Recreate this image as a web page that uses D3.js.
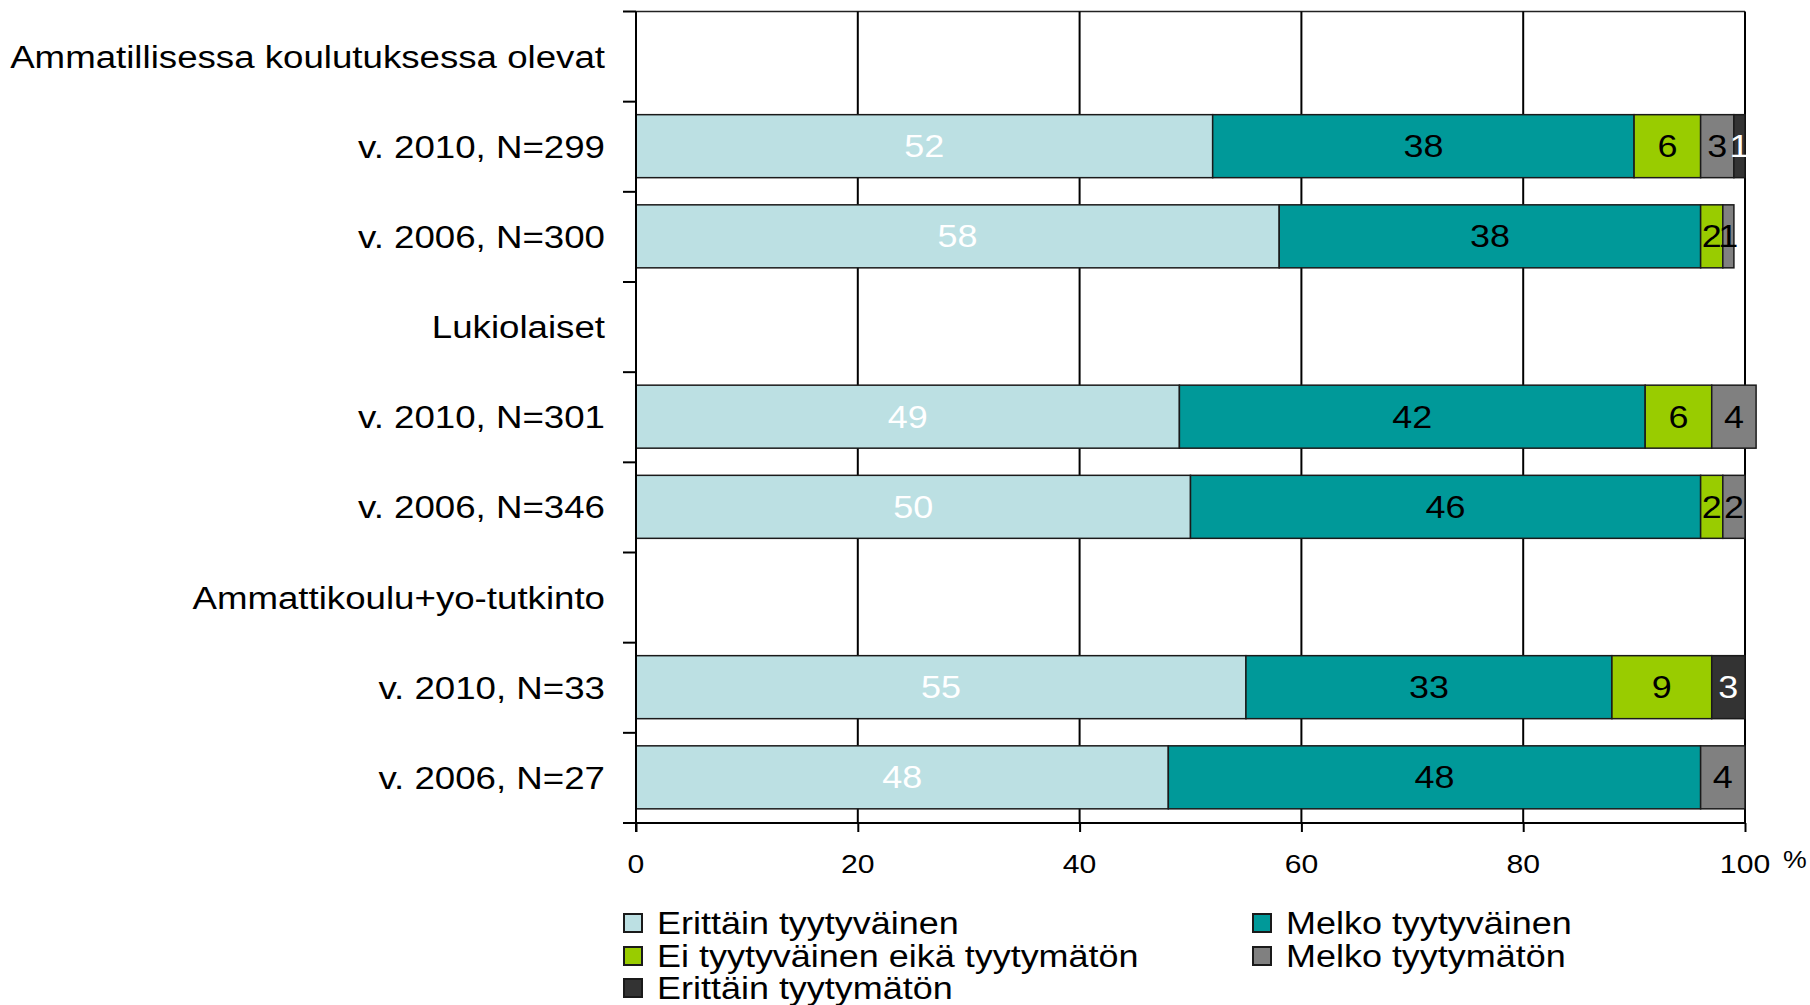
<!DOCTYPE html>
<html>
<head>
<meta charset="utf-8">
<script src="https://cdn.jsdelivr.net/npm/d3@7"></script>
<style>
  body { margin: 0; background: #fff; }
  text { font-family: "Liberation Sans", Arial, sans-serif; }
</style>
</head>
<body>
<div id="chart"></div>
<script>
// row labels (group headers have no bars)
var rowLabels = ["Ammatillisessa koulutuksessa olevat", "v. 2010, N=299", "v. 2006, N=300",
                 "Lukiolaiset", "v. 2010, N=301", "v. 2006, N=346",
                 "Ammattikoulu+yo-tutkinto", "v. 2010, N=33", "v. 2006, N=27"];

// series values, percent
var erittainTyytyvainen = [null, 52, 58, null, 49, 50, null, 55, 48];
var melkoTyytyvainen    = [null, 38, 38, null, 42, 46, null, 33, 48];
var eiEika              = [null, 6, 2, null, 6, 2, null, 9, 0];
var melkoTyytymaton     = [null, 3, 1, null, 4, 2, null, 0, 4];
var erittainTyytymaton  = [null, 1, 0, null, 0, 0, null, 3, 0];

var seriesNames = ["Erittäin tyytyväinen", "Melko tyytyväinen", "Ei tyytyväinen eikä tyytymätön",
                   "Melko tyytymätön", "Erittäin tyytymätön"];
var xTicks = [0, 20, 40, 60, 80, 100];

var colors = ["#bce0e3", "#009999", "#99cc00", "#808080", "#333333"];
var labelColors = ["#ffffff", "#000000", "#000000", "#000000", "#ffffff"];
var sx = 1.16; // text is drawn a bit wide in the original

var width = 1810, height = 1005;
var margin = {top: 11.5, left: 636, right: 65, bottom: 182};

var svg = d3.select("#chart").append("svg")
    .attr("width", width)
    .attr("height", height);

var x = d3.scaleLinear().domain([0, 100]).range([margin.left, width - margin.right]);
var y = d3.scaleBand().domain(d3.range(rowLabels.length))
    .range([margin.top, height - margin.bottom]);

// build table for the stack
var keys = ["s0", "s1", "s2", "s3", "s4"];
var allSeries = [erittainTyytyvainen, melkoTyytyvainen, eiEika, melkoTyytymaton, erittainTyytymaton];
var table = [];
rowLabels.forEach(function(l, i) {
  if (erittainTyytyvainen[i] === null) return;
  var row = {idx: i};
  keys.forEach(function(k, j) { row[k] = allSeries[j][i]; });
  table.push(row);
});
var stacked = d3.stack().keys(keys)(table);

// top border
svg.append("line")
    .attr("x1", x(0)).attr("x2", x(100))
    .attr("y1", margin.top).attr("y2", margin.top)
    .attr("stroke", "#222").attr("stroke-width", 1.5);

// vertical gridlines
svg.selectAll(".grid")
  .data(xTicks.slice(1))
  .enter().append("line")
    .attr("class", "grid")
    .attr("x1", function(d) { return x(d); })
    .attr("x2", function(d) { return x(d); })
    .attr("y1", margin.top).attr("y2", y.range()[1])
    .attr("stroke", "#000").attr("stroke-width", 2);

// bars
var barH = 63, barOff = 13;
var layer = svg.selectAll(".layer")
  .data(stacked)
  .enter().append("g")
    .attr("class", "layer")
    .attr("fill", function(d, i) { return colors[i]; });

layer.selectAll("rect")
  .data(function(d) { return d.filter(function(p) { return p[1] - p[0] > 0; }); })
  .enter().append("rect")
    .attr("x", function(d) { return x(d[0]); })
    .attr("width", function(d) { return x(d[1]) - x(d[0]); })
    .attr("y", function(d) { return y(d.data.idx) + barOff; })
    .attr("height", barH)
    .attr("stroke", "#1a1a1a")
    .attr("stroke-width", 1.5);

// value labels
layer.each(function(s, i) {
  d3.select(this).selectAll("text")
    .data(s.filter(function(p) { return p[1] - p[0] > 0; }))
    .enter().append("text")
      .attr("transform", function(d) {
        return "translate(" + ((x(d[0]) + x(d[1])) / 2) + "," + (y(d.data.idx) + barOff + barH / 2 + 11) + ") scale(" + sx + ",1)";
      })
      .attr("text-anchor", "middle")
      .attr("font-size", 31)
      .attr("fill", labelColors[i])
      .text(function(d) { return d[1] - d[0]; });
});

// y axis
svg.append("line")
    .attr("x1", x(0)).attr("x2", x(0))
    .attr("y1", margin.top).attr("y2", y.range()[1] + 9)
    .attr("stroke", "#000").attr("stroke-width", 2);
var bounds = d3.range(rowLabels.length + 1).map(function(i) { return margin.top + i * y.step(); });
svg.selectAll(".ytick")
  .data(bounds)
  .enter().append("line")
    .attr("x1", x(0) - 13).attr("x2", x(0))
    .attr("y1", function(d) { return d; }).attr("y2", function(d) { return d; })
    .attr("stroke", "#000").attr("stroke-width", 2);

svg.selectAll(".ylab")
  .data(rowLabels)
  .enter().append("text")
    .attr("transform", function(d, i) {
      return "translate(605," + (y(i) + y.bandwidth() / 2 + 11) + ") scale(" + sx + ",1)";
    })
    .attr("text-anchor", "end")
    .attr("font-size", 31.6)
    .attr("fill", "#000")
    .text(function(d) { return d; });

// x axis
var xAxis = svg.append("g")
    .attr("transform", "translate(0," + y.range()[1] + ")")
    .call(d3.axisBottom(x).tickValues(xTicks).tickSize(9).tickPadding(0).tickFormat(function() { return ""; }));
xAxis.select(".domain").attr("stroke", "#000").attr("stroke-width", 2)
    .attr("d", "M" + x(0) + ",0H" + x(100));
xAxis.selectAll(".tick line").attr("stroke", "#000").attr("stroke-width", 2);

svg.selectAll(".xlab")
  .data(xTicks)
  .enter().append("text")
    .attr("transform", function(d) { return "translate(" + x(d) + ",873) scale(" + sx + ",1)"; })
    .attr("text-anchor", "middle")
    .attr("font-size", 26)
    .text(function(d) { return d; });

svg.append("text")
    .attr("transform", "translate(1783,868) scale(" + sx + ",1)")
    .attr("font-size", 23)
    .text("%");

// legend
var legPos = [[624, 923], [1253, 923], [624, 956], [1253, 956], [624, 988]];
var leg = svg.selectAll(".leg")
  .data(seriesNames)
  .enter().append("g")
    .attr("class", "leg")
    .attr("transform", function(d, i) { return "translate(" + legPos[i][0] + "," + legPos[i][1] + ")"; });
leg.append("rect")
    .attr("x", 0).attr("y", -9)
    .attr("width", 18).attr("height", 18)
    .attr("fill", function(d, i) { return colors[i]; })
    .attr("stroke", "#1a1a1a").attr("stroke-width", 2);
leg.append("text")
    .attr("transform", "translate(33,11) scale(" + sx + ",1)")
    .attr("font-size", 31)
    .text(function(d) { return d; });
</script>
</body>
</html>
